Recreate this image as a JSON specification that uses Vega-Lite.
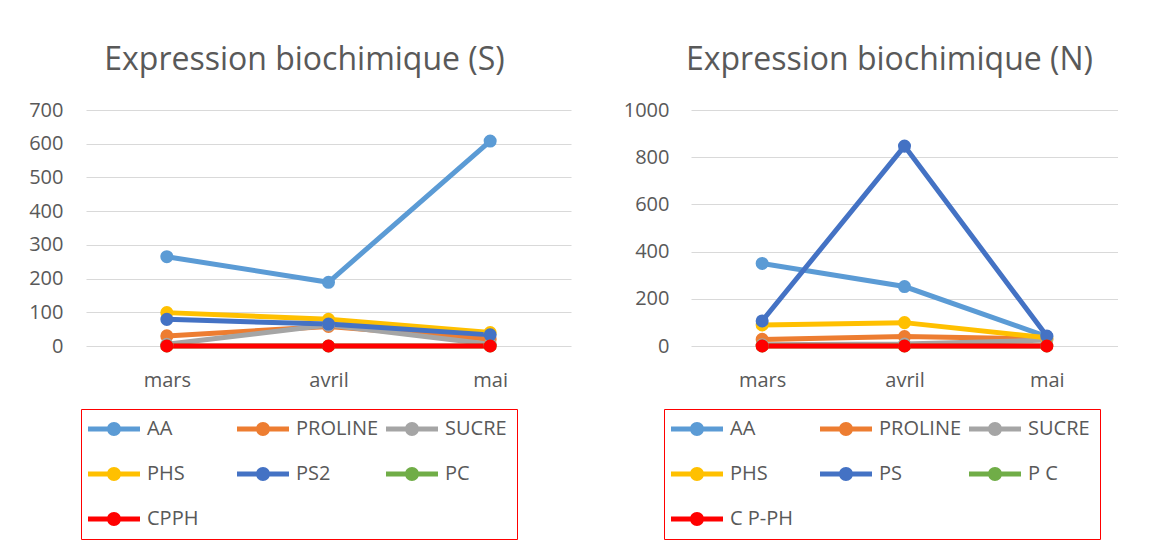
{
  "$schema": "https://vega.github.io/schema/vega-lite/v6.json",
  "background": "white",
  "padding": {"left": 28, "top": 44, "right": 0, "bottom": 0},
  "config": {
    "font": "Open Sans",
    "view": {"stroke": null},
    "axis": {"labelColor": "#595959", "labelFontSize": 20, "labelFont": "Open Sans", "title": null, "domain": false, "ticks": false},
    "legend": {
      "orient": "none", "direction": "horizontal", "columns": 3, "title": null,
      "symbolType": "M-1.3,-0.25H3.9V0.25H-1.3Z M2,0A0.7,0.7 0 1,1 0.6,0A0.7,0.7 0 1,1 2,0Z",
      "symbolSize": 400, "symbolStrokeWidth": 0, "symbolOpacity": 1,
      "labelFontSize": 20, "labelColor": "#595959", "labelFont": "Open Sans", "labelOffset": 36, "labelLimit": 200,
      "columnPadding": 7, "rowPadding": 25, "padding": 10, "strokeColor": "#FF0000", "strokeWidth": 1, "gridAlign": "all"
    }
  },
  "datasets": {
    "S": [
      {"serie": "AA", "mois": "mars", "valeur": 265}, {"serie": "AA", "mois": "avril", "valeur": 189}, {"serie": "AA", "mois": "mai", "valeur": 608},
      {"serie": "PROLINE", "mois": "mars", "valeur": 30}, {"serie": "PROLINE", "mois": "avril", "valeur": 58}, {"serie": "PROLINE", "mois": "mai", "valeur": 20},
      {"serie": "SUCRE", "mois": "mars", "valeur": 5}, {"serie": "SUCRE", "mois": "avril", "valeur": 62}, {"serie": "SUCRE", "mois": "mai", "valeur": 5},
      {"serie": "PHS", "mois": "mars", "valeur": 99}, {"serie": "PHS", "mois": "avril", "valeur": 79}, {"serie": "PHS", "mois": "mai", "valeur": 40},
      {"serie": "PS2", "mois": "mars", "valeur": 79}, {"serie": "PS2", "mois": "avril", "valeur": 65}, {"serie": "PS2", "mois": "mai", "valeur": 33},
      {"serie": "PC", "mois": "mars", "valeur": 0}, {"serie": "PC", "mois": "avril", "valeur": 0}, {"serie": "PC", "mois": "mai", "valeur": 0},
      {"serie": "CPPH", "mois": "mars", "valeur": 0}, {"serie": "CPPH", "mois": "avril", "valeur": 0}, {"serie": "CPPH", "mois": "mai", "valeur": 0}
    ],
    "N": [
      {"serie": "AA", "mois": "mars", "valeur": 350}, {"serie": "AA", "mois": "avril", "valeur": 252}, {"serie": "AA", "mois": "mai", "valeur": 40},
      {"serie": "PROLINE", "mois": "mars", "valeur": 28}, {"serie": "PROLINE", "mois": "avril", "valeur": 40}, {"serie": "PROLINE", "mois": "mai", "valeur": 30},
      {"serie": "SUCRE", "mois": "mars", "valeur": 5}, {"serie": "SUCRE", "mois": "avril", "valeur": 8}, {"serie": "SUCRE", "mois": "mai", "valeur": 25},
      {"serie": "PHS", "mois": "mars", "valeur": 89}, {"serie": "PHS", "mois": "avril", "valeur": 99}, {"serie": "PHS", "mois": "mai", "valeur": 35},
      {"serie": "PS", "mois": "mars", "valeur": 106}, {"serie": "PS", "mois": "avril", "valeur": 847}, {"serie": "PS", "mois": "mai", "valeur": 42},
      {"serie": "P C", "mois": "mars", "valeur": 0}, {"serie": "P C", "mois": "avril", "valeur": 0}, {"serie": "P C", "mois": "mai", "valeur": 0},
      {"serie": "C P-PH", "mois": "mars", "valeur": 0}, {"serie": "C P-PH", "mois": "avril", "valeur": 0}, {"serie": "C P-PH", "mois": "mai", "valeur": 0}
    ]
  },
  "spacing": 52,
  "resolve": {"scale": {"color": "independent", "y": "independent"}, "legend": {"color": "independent"}},
  "hconcat": [
    {
      "title": {"text": "Expression biochimique (S)", "fontSize": 32, "color": "#595959", "fontWeight": "normal", "font": "Open Sans", "dx": -24, "offset": 23},
      "width": 485, "height": 236,
      "data": {"name": "S"},
      "encoding": {
        "x": {"field": "mois", "type": "ordinal", "sort": ["mars", "avril", "mai"], "scale": {"type": "point", "padding": 0.5}, "axis": {"labelAngle": 0, "labelPadding": 24, "grid": false}},
        "y": {"field": "valeur", "type": "quantitative", "scale": {"domain": [0, 700], "nice": false}, "axis": {"values": [0, 100, 200, 300, 400, 500, 600, 700], "format": "d", "grid": true, "gridColor": "#D9D9D9", "labelPadding": 23}},
        "color": {"field": "serie", "type": "nominal", "sort": null,
          "scale": {"domain": ["AA", "PROLINE", "SUCRE", "PHS", "PS2", "PC", "CPPH"], "range": ["#5B9BD5", "#ED7D31", "#A5A5A5", "#FFC000", "#4472C4", "#70AD47", "#FF0000"]},
          "legend": {"legendX": -5, "legendY": 299}}
      },
      "layer": [
        {"mark": {"type": "line", "strokeWidth": 5}},
        {"mark": {"type": "point", "filled": true, "size": 170, "opacity": 1}}
      ]
    },
    {
      "title": {"text": "Expression biochimique (N)", "fontSize": 32, "color": "#595959", "fontWeight": "normal", "font": "Open Sans", "dx": -15, "offset": 23},
      "width": 427, "height": 236,
      "data": {"name": "N"},
      "encoding": {
        "x": {"field": "mois", "type": "ordinal", "sort": ["mars", "avril", "mai"], "scale": {"type": "point", "padding": 0.5}, "axis": {"labelAngle": 0, "labelPadding": 24, "grid": false}},
        "y": {"field": "valeur", "type": "quantitative", "scale": {"domain": [0, 1000], "nice": false}, "axis": {"values": [0, 200, 400, 600, 800, 1000], "format": "d", "grid": true, "gridColor": "#D9D9D9", "labelPadding": 22}},
        "color": {"field": "serie", "type": "nominal", "sort": null,
          "scale": {"domain": ["AA", "PROLINE", "SUCRE", "PHS", "PS", "P C", "C P-PH"], "range": ["#5B9BD5", "#ED7D31", "#A5A5A5", "#FFC000", "#4472C4", "#70AD47", "#FF0000"]},
          "legend": {"legendX": -27, "legendY": 299}}
      },
      "layer": [
        {"mark": {"type": "line", "strokeWidth": 5}},
        {"mark": {"type": "point", "filled": true, "size": 170, "opacity": 1}}
      ]
    }
  ]
}
